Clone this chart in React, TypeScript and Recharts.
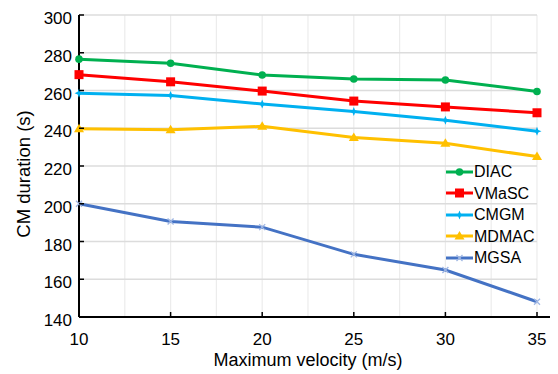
import React from 'react';
import { LineChart, Line, XAxis, YAxis, CartesianGrid, Legend } from 'recharts';

const velocities = [10, 15, 20, 25, 30, 35];
const diac = [276.6, 274.4, 268.2, 266.1, 265.6, 259.5];
const vmasc = [268.4, 264.6, 259.7, 254.4, 251.3, 248.2];
const cmgm = [258.6, 257.4, 252.8, 248.9, 244.2, 238.4];
const mdmac = [239.8, 239.2, 241.0, 235.1, 232.0, 225.0];
const mgsa = [200.0, 190.6, 187.6, 173.2, 164.9, 148.1];

const xGridTicks = [10, 12.5, 15, 17.5, 20, 22.5, 25, 27.5, 30, 32.5, 35];
const yTicks = [140, 160, 180, 200, 220, 240, 260, 280, 300];

const series = [
  { key: 'DIAC', values: diac, color: '#00B050', marker: 'circle' },
  { key: 'VMaSC', values: vmasc, color: '#FF0000', marker: 'square' },
  { key: 'CMGM', values: cmgm, color: '#00B0F0', marker: 'star' },
  { key: 'MDMAC', values: mdmac, color: '#FFC000', marker: 'triangle' },
  { key: 'MGSA', values: mgsa, color: '#4472C4', marker: 'cross' },
];

const data = velocities.map((v, i) => {
  const row: any = { v };
  series.forEach(s => { row[s.key] = s.values[i]; });
  return row;
});

const FONT = 'Arial, "Liberation Sans", sans-serif';

function Marker({ cx, cy, shape, color }: { cx: number; cy: number; shape: string; color: string }) {
  switch (shape) {
    case 'circle':
      return <circle cx={cx} cy={cy} r={3.8} fill={color} />;
    case 'square':
      return <rect x={cx - 4.5} y={cy - 4.5} width={9} height={9} fill={color} />;
    case 'star':
      return (
        <path
          d={`M${cx},${cy - 4.5} L${cx + 1.3},${cy - 1.3} L${cx + 4.5},${cy} L${cx + 1.3},${cy + 1.3} L${cx},${cy + 4.5} L${cx - 1.3},${cy + 1.3} L${cx - 4.5},${cy} L${cx - 1.3},${cy - 1.3} Z`}
          fill={color}
        />
      );
    case 'triangle':
      return <polygon points={`${cx},${cy - 5} ${cx + 5},${cy + 3.5} ${cx - 5},${cy + 3.5}`} fill={color} />;
    default:
      return (
        <g stroke="#9fb6e3" strokeWidth={1.3}>
          <line x1={cx - 3} y1={cy - 3} x2={cx + 3} y2={cy + 3} />
          <line x1={cx - 3} y1={cy + 3} x2={cx + 3} y2={cy - 3} />
        </g>
      );
  }
}

const makeDot = (shape: string, color: string) => (props: any) => (
  <Marker key={`${shape}-${props.index}`} cx={props.cx} cy={props.cy} shape={shape} color={color} />
);

const YTick = (props: any) => {
  const { x, y, payload } = props;
  return (
    <g>
      <line x1={x} x2={x + 5} y1={y} y2={y} stroke="#000" strokeWidth={1.5} />
      <text x={x - 7} y={y + 9} textAnchor="end" fontSize={17} fontFamily={FONT} fill="#000">
        {payload.value}
      </text>
    </g>
  );
};

const XTick = (props: any) => {
  const { x, y, payload } = props;
  if (payload.value % 5 !== 0) return <g />;
  return (
    <g>
      <line x1={x} x2={x} y1={y} y2={y - 5} stroke="#000" strokeWidth={1.5} />
      <text x={x} y={y + 28} textAnchor="middle" fontSize={17} fontFamily={FONT} fill="#000">
        {payload.value}
      </text>
    </g>
  );
};

// rotated y-axis title, a bit below the plot's middle like the original
const YTitle = (props: any) => {
  const { viewBox } = props;
  const cy = viewBox.y + viewBox.height / 2 + 8;
  const x = 30;
  return (
    <text
      x={x}
      y={cy}
      transform={`rotate(-90, ${x}, ${cy})`}
      textAnchor="middle"
      fontSize={18.5}
      fontFamily={FONT}
      fill="#000"
    >
      CM duration (s)
    </text>
  );
};

const LegendContent = () => (
  <div style={{ fontFamily: FONT, fontSize: 16, color: '#000' }}>
    {series.map(s => (
      <div key={s.key} style={{ display: 'flex', alignItems: 'center', height: 21.5 }}>
        <svg width={27} height={12} style={{ display: 'block' }}>
          <line x1={0} x2={27} y1={6} y2={6} stroke={s.color} strokeWidth={3} />
          <Marker cx={13.5} cy={6} shape={s.marker} color={s.color} />
        </svg>
        <span style={{ marginLeft: 1, lineHeight: '21.5px' }}>{s.key}</span>
      </div>
    ))}
  </div>
);

export default function App() {
  return (
    <div style={{ position: 'absolute', left: 0, top: 0, width: 558, height: 374, background: '#fff' }}>
      <LineChart width={558} height={374} data={data} margin={{ top: 15, right: 21, left: 0, bottom: 0 }}>
        <CartesianGrid horizontal={false} stroke="#ececec" strokeWidth={1.2} />
        <CartesianGrid vertical={false} stroke="#dcdcdc" strokeWidth={1.5} />
        <XAxis
          dataKey="v"
          type="number"
          domain={[10, 35]}
          ticks={xGridTicks}
          interval={0}
          height={57}
          tickSize={0}
          tickMargin={0}
          tickLine={false}
          tick={<XTick />}
          axisLine={{ stroke: '#000', strokeWidth: 2 }}
          label={{ value: 'Maximum velocity (m/s)', position: 'insideBottom', offset: 8, fontSize: 18, fontFamily: FONT, fill: '#000' }}
        />
        <YAxis
          type="number"
          domain={[140, 300]}
          ticks={yTicks}
          interval={0}
          width={79}
          tickSize={0}
          tickMargin={0}
          tickLine={false}
          tick={<YTick />}
          axisLine={{ stroke: '#000', strokeWidth: 2 }}
          label={<YTitle />}
        />
        <Legend
          layout="vertical"
          align="center"
          verticalAlign="middle"
          content={<LegendContent />}
          wrapperStyle={{ left: 446, top: 161, width: 110 }}
        />
        {series.map(s => (
          <Line
            key={s.key}
            dataKey={s.key}
            name={s.key}
            stroke={s.color}
            strokeWidth={3}
            type="linear"
            dot={makeDot(s.marker, s.color)}
            activeDot={false}
            isAnimationActive={false}
          />
        ))}
      </LineChart>
      <div style={{ position: 'absolute', left: 537, top: 316, width: 13, height: 2, background: '#000' }} />
    </div>
  );
}
